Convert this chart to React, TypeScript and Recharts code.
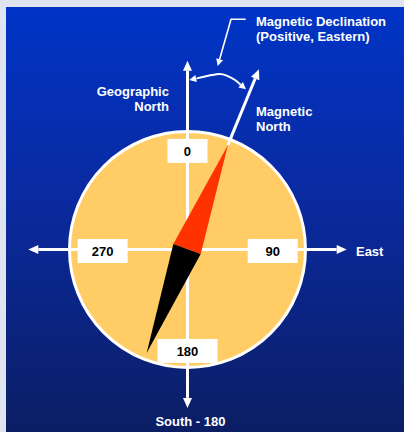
import React from 'react';
import { ScatterChart, Scatter, XAxis, YAxis, Curve } from 'recharts';

type Pt = { x: number; y: number };

// ---- Data (compass units: the compass face has radius 1, centre at 0,0) ----
const compassFace: Pt[] = [{ x: 0, y: 0 }, { x: 1, y: 0 }];
const northAxis: Pt[] = [{ x: 0, y: 0 }, { x: 0, y: 1.6 }];
const southAxis: Pt[] = [{ x: 0, y: 0 }, { x: 0, y: -1.343 }];
const westAxis: Pt[] = [{ x: 0, y: 0 }, { x: -1.349, y: 0 }];
const eastAxis: Pt[] = [{ x: 0, y: 0 }, { x: 1.349, y: 0 }];
const magneticNorthAxis: Pt[] = [{ x: 0.343, y: 0.886 }, { x: 0.606, y: 1.527 }];
const needleNorth: Pt[] = [{ x: 0.343, y: 0.886 }, { x: -0.12, y: 0.047 }, { x: 0.112, y: -0.038 }];
const needleSouth: Pt[] = [{ x: -0.12, y: 0.047 }, { x: 0.112, y: -0.038 }, { x: -0.346, y: -0.877 }];
const declinationArc: Pt[] = [
  { x: 0.015, y: 1.436 },
  { x: 0.106, y: 1.456 },
  { x: 0.247, y: 1.485 },
  { x: 0.332, y: 1.473 },
  { x: 0.403, y: 1.436 },
  { x: 0.496, y: 1.358 },
];
const declinationPointer: Pt[] = [
  { x: 0.493, y: 1.951 },
  { x: 0.369, y: 1.951 },
  { x: 0.256, y: 1.555 },
];
const headingLabels = ['0', '90', '180', '270'];
const headingPositions: Pt[] = [
  { x: 0, y: 0.835 },
  { x: 0.722, y: -0.013 },
  { x: 0, y: -0.86 },
  { x: -0.719, y: -0.013 },
];
const annotationTexts = [
  ['Magnetic Declination', '(Positive, Eastern)'],
  ['Geographic', 'North'],
  ['Magnetic', 'North'],
  ['East'],
  ['South - 180'],
];
const annotationPositions: Pt[] = [
  { x: 0.581, y: 1.894 },
  { x: -0.157, y: 1.303 },
  { x: 0.581, y: 1.134 },
  { x: 1.428, y: -0.055 },
  { x: 0.025, y: -1.496 },
];

// ---- Layout / style ----
const W = 404;
const H = 432;
const X_DOMAIN: [number, number] = [-1.589, 1.835];
const Y_DOMAIN: [number, number] = [-1.547, 2.114];
const FONT = '"Liberation Sans", Arial, Helvetica, sans-serif';
const annotationAnchors = ['start', 'end', 'start', 'start', 'middle'];
const boxWidths: Record<string, number> = { '0': 40, '90': 50, '180': 60, '270': 50 };

const headingData = headingLabels.map((label, i) => ({ ...headingPositions[i], label }));
const annotationData = annotationTexts.map((lines, i) => ({
  ...annotationPositions[i],
  lines,
  anchor: annotationAnchors[i],
}));

const noPoint = () => <g />;

const head = (tip: Pt, from: Pt, len: number, half: number) => {
  const dx = tip.x - from.x;
  const dy = tip.y - from.y;
  const d = Math.hypot(dx, dy) || 1;
  const ux = dx / d;
  const uy = dy / d;
  const bx = tip.x - ux * len;
  const by = tip.y - uy * len;
  return {
    base: { x: bx, y: by },
    poly: `${tip.x},${tip.y} ${bx - uy * half},${by + ux * half} ${bx + uy * half},${by - ux * half}`,
  };
};

const arrowLine = (sw: number, len: number, half: number) => (props: any) => {
  const pts: Pt[] = props.points;
  const tip = pts[pts.length - 1];
  const h = head(tip, pts[pts.length - 2], len, half);
  const linePts = [...pts.slice(0, -1), h.base].map((p) => `${p.x},${p.y}`).join(' ');
  return (
    <g>
      <polyline points={linePts} fill="none" stroke="#ffffff" strokeWidth={sw} strokeLinejoin="miter" />
      <polygon points={h.poly} fill="#ffffff" />
    </g>
  );
};

const doubleArrowCurve = (props: any) => {
  const pts: Pt[] = props.points;
  const n = pts.length;
  const h1 = head(pts[0], pts[1], 7, 3.5);
  const h2 = head(pts[n - 1], pts[n - 2], 7, 3.5);
  const curvePts = [h1.base, ...pts.slice(1, -1), h2.base];
  return (
    <g>
      <Curve type="natural" points={curvePts as any} fill="none" stroke="#ffffff" strokeWidth={2} />
      <polygon points={h1.poly} fill="#ffffff" />
      <polygon points={h2.poly} fill="#ffffff" />
    </g>
  );
};

const circleFromPoints = (props: any) => {
  const [c, rim] = props.points as Pt[];
  const r = Math.hypot(rim.x - c.x, rim.y - c.y);
  return <circle cx={c.x} cy={c.y} r={r} fill="#FFCC66" stroke="#ffffff" strokeWidth={3} />;
};

const polygonFill = (fill: string) => (props: any) => (
  <polygon points={(props.points as Pt[]).map((p) => `${p.x},${p.y}`).join(' ')} fill={fill} />
);

const headingBox = (props: any) => {
  const { cx, cy, payload } = props;
  const w = boxWidths[payload.label] ?? 50;
  return (
    <g>
      <rect x={cx - w / 2} y={cy - 12} width={w} height={24} fill="#ffffff" />
      <text
        x={cx}
        y={cy + 4.6}
        textAnchor="middle"
        fontFamily={FONT}
        fontWeight="bold"
        fontSize={13}
        fill="#000000"
      >
        {payload.label}
      </text>
    </g>
  );
};

const annotationText = (props: any) => {
  const { cx, cy, payload } = props;
  return (
    <text
      x={cx}
      y={cy}
      textAnchor={payload.anchor}
      fontFamily={FONT}
      fontWeight="bold"
      fontSize={13}
      fill="#ffffff"
    >
      {payload.lines.map((l: string, i: number) => (
        <tspan key={i} x={cx} y={cy + i * 15.5}>
          {l}
        </tspan>
      ))}
    </text>
  );
};

export default function App() {
  return (
    <div style={{ position: 'absolute', left: 0, top: 0, width: W, height: H, background: '#dfe4f0' }}>
      <div
        style={{
          position: 'absolute',
          left: 6,
          top: 7,
          right: 0,
          bottom: 0,
          background: 'linear-gradient(to bottom, #0034c6 0%, #0a2aa0 45%, #0b1e64 100%)',
        }}
      />
      <div style={{ position: 'absolute', left: 0, top: 0 }}>
        <ScatterChart width={W} height={H} margin={{ top: 0, right: 0, bottom: 0, left: 0 }}>
          <XAxis type="number" dataKey="x" domain={X_DOMAIN} allowDataOverflow hide />
          <YAxis type="number" dataKey="y" domain={Y_DOMAIN} allowDataOverflow hide />
          <Scatter data={compassFace} shape={noPoint} line={circleFromPoints} isAnimationActive={false} />
          <Scatter data={northAxis} shape={noPoint} line={arrowLine(3, 10, 4.5)} isAnimationActive={false} />
          <Scatter data={southAxis} shape={noPoint} line={arrowLine(3, 10, 4.5)} isAnimationActive={false} />
          <Scatter data={westAxis} shape={noPoint} line={arrowLine(3, 10, 4.5)} isAnimationActive={false} />
          <Scatter data={eastAxis} shape={noPoint} line={arrowLine(3, 10, 4.5)} isAnimationActive={false} />
          <Scatter data={magneticNorthAxis} shape={noPoint} line={arrowLine(3, 10, 4.5)} isAnimationActive={false} />
          <Scatter data={needleNorth} shape={noPoint} line={polygonFill('#FF3300')} isAnimationActive={false} />
          <Scatter data={needleSouth} shape={noPoint} line={polygonFill('#000000')} isAnimationActive={false} />
          <Scatter data={headingData} shape={headingBox} isAnimationActive={false} />
          <Scatter data={declinationArc} shape={noPoint} line={doubleArrowCurve} isAnimationActive={false} />
          <Scatter data={declinationPointer} shape={noPoint} line={arrowLine(1.6, 7, 3.5)} isAnimationActive={false} />
          <Scatter data={annotationData} shape={annotationText} isAnimationActive={false} />
        </ScatterChart>
      </div>
    </div>
  );
}
